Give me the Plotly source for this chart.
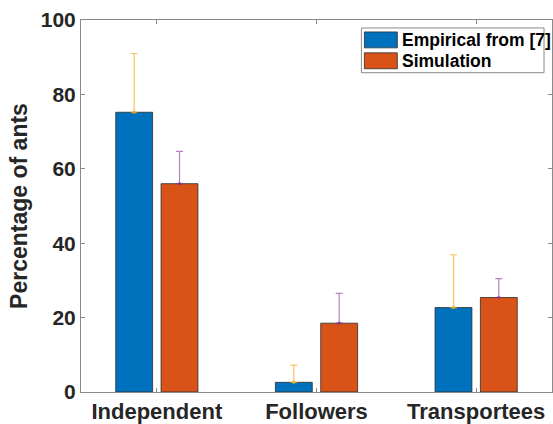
import plotly.graph_objects as go

# Share of ants in each behavioural class
categories = ["Independent", "Followers", "Transportees"]
empirical = [75.2, 2.6, 22.7]
empirical_err = [15.8, 4.6, 14.2]
simulation = [56.0, 18.5, 25.4]
simulation_err = [8.7, 8.0, 5.1]
series_names = ["Empirical from [7]", "Simulation"]

BLUE = "#0072BD"
ORANGE = "#D95319"
ERR_YELLOW = "rgba(237,177,32,0.75)"
ERR_PURPLE = "rgba(126,47,142,0.6)"
EDGE = "rgba(45,45,45,0.8)"
AX = "#8a8a8a"
TXT = "#262626"
FONT = "Liberation Sans, Arial, sans-serif"

W, H = 553, 424
L, R, T, B = 81, 0, 20, 30
OFFSET, BARW = 0.142, 0.231

pos = list(range(1, len(categories) + 1))

fig = go.Figure()
for vals, errs, color, ecolor, shift in [
    (empirical, empirical_err, BLUE, ERR_YELLOW, -OFFSET),
    (simulation, simulation_err, ORANGE, ERR_PURPLE, OFFSET),
]:
    xs = [p + shift for p in pos]
    fig.add_trace(go.Bar(
        x=xs, y=vals, width=BARW,
        marker=dict(color=color, line=dict(color=EDGE, width=1)),
        error_y=dict(type="data", symmetric=False, array=errs,
                     arrayminus=[0] * len(errs), color=ecolor,
                     thickness=1.2, width=3.5),
        showlegend=False, hoverinfo="skip",
    ))
    fig.add_trace(go.Scatter(
        x=xs, y=vals, mode="markers",
        marker=dict(color=ecolor, size=3.5, line=dict(width=0)),
        showlegend=False, hoverinfo="skip",
    ))

# legend box drawn in pixel space
pw, ph = W - L - R, H - T - B
def px(x):
    return (x - L) / pw
def py(y):
    return (H - B - y) / ph

shapes = [dict(type="rect", xref="paper", yref="paper",
               x0=px(362), x1=px(545), y0=py(73), y1=py(28),
               line=dict(color="#8a8a8a", width=1), fillcolor="white")]
annotations = []
for i, (name, color) in enumerate(zip(series_names, [BLUE, ORANGE])):
    y0 = 32 + i * 21
    shapes.append(dict(type="rect", xref="paper", yref="paper",
                       x0=px(365), x1=px(398), y0=py(y0 + 16), y1=py(y0),
                       line=dict(color=EDGE, width=1), fillcolor=color))
    annotations.append(dict(xref="paper", yref="paper", x=px(401), y=py(y0 + 8),
                            text=name, showarrow=False, xanchor="left",
                            yanchor="middle",
                            font=dict(family=FONT, size=17.5, color="black",
                                      weight="bold")))

fig.update_layout(
    width=W, height=H,
    margin=dict(l=L, r=R, t=T, b=B, pad=0),
    paper_bgcolor="white", plot_bgcolor="white",
    barmode="overlay",
    font=dict(family=FONT, color=TXT, weight="bold"),
    shapes=shapes, annotations=annotations,
    xaxis=dict(range=[0.525, 3.475], tickvals=pos, ticktext=categories,
               ticks="inside", ticklen=4, tickcolor=AX, showline=True,
               linecolor=AX, linewidth=1, mirror="ticks", showgrid=False,
               zeroline=False, tickfont=dict(size=22, color=TXT, weight="bold")),
    yaxis=dict(range=[0, 100], dtick=20, ticks="inside", ticklen=4,
               tickcolor=AX, showline=True, linecolor=AX, linewidth=1,
               mirror="ticks", showgrid=False, zeroline=False,
               tickfont=dict(size=21, color=TXT, weight="bold"),
               title=dict(text="Percentage of ants", standoff=6,
                          font=dict(size=23, color=TXT, weight="bold"))),
)

fig.write_html("out.html")
